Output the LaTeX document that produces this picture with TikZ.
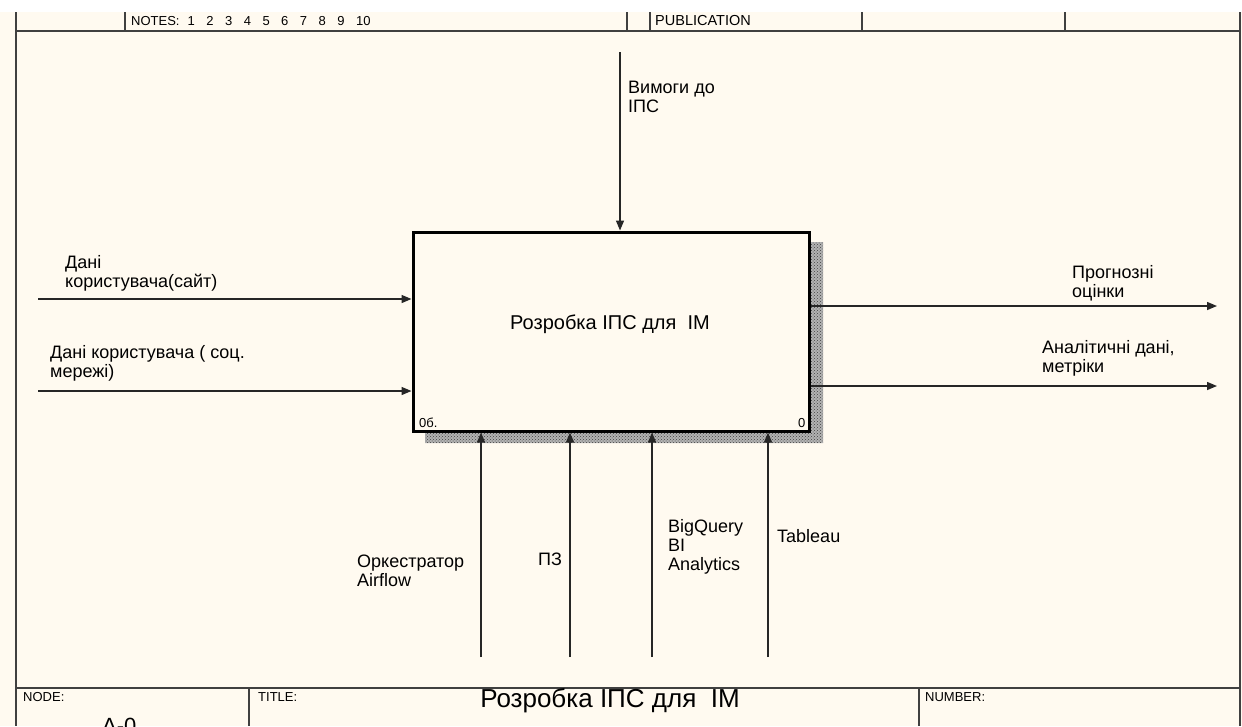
\documentclass[tikz,border=0pt]{standalone}
\usepackage{fontspec}
\setmainfont{Liberation Sans}
\usetikzlibrary{arrows.meta,patterns}
\definecolor{paper}{RGB}{255,250,240}
\definecolor{rulegray}{RGB}{64,64,64}
\begin{document}
\begin{tikzpicture}[x=1pt,y=-1pt,
  frameline/.style={draw=rulegray,line width=2pt},
  conn/.style={draw=black!85,line width=1.4pt,-{Triangle[length=10pt,width=8pt]}},
  lbl/.style={inner sep=0pt,anchor=base west,align=left,font=\fontsize{18}{19}\selectfont},
  small/.style={inner sep=0pt,anchor=base west,font=\fontsize{13}{15}\selectfont},
  tiny/.style={inner sep=0pt,anchor=base west,font=\fontsize{13}{15}\selectfont},
]
\useasboundingbox (0,0) rectangle (1242,726);
\clip (0,0) rectangle (1242,726);
\fill[white] (0,0) rectangle (1242,726);
\fill[paper] (0,12) rectangle (1242,726);

% sheet frame and header/footer cells
\draw[frameline] (16,12) -- (16,726);
\draw[frameline] (1240,12) -- (1240,726);
\draw[frameline] (16,31) -- (1240,31);
\foreach \x in {125,627,650,862,1065} \draw[frameline] (\x,12) -- (\x,31);
\draw[frameline] (16,688) -- (1240,688);
\foreach \x in {249,919} \draw[frameline] (\x,688) -- (\x,726);

\node[small] (notes) at (131,25) {NOTES:\hspace{8pt}1\hspace{11.5pt}2\hspace{11.5pt}3\hspace{11.5pt}4\hspace{11.5pt}5\hspace{11.5pt}6\hspace{11.5pt}7\hspace{11.5pt}8\hspace{11.5pt}9\hspace{11.5pt}10};
\node[small,font=\fontsize{14.5}{16}\selectfont] (pub) at (655,25) {PUBLICATION};
\node[small] (nodelbl) at (23,701) {NODE:};
\node[small] (titlelbl) at (258,701) {TITLE:};
\node[small] (numlbl) at (925,701) {NUMBER:};
\node[anchor=base,inner sep=0pt,font=\fontsize{26}{30}\selectfont] (sheettitle) at (610,707) {Розробка ІПС для\ \ ІМ};
\node[anchor=base west,inner sep=0pt,font=\fontsize{22}{26}\selectfont] (nodeid) at (102,733) {A-0};

% activity box with hatched shadow
\fill[black!30] (810,242) rectangle (823,443) (425,432) rectangle (810,443);
\fill[pattern=crosshatch dots,pattern color=black!75] (810,242) rectangle (823,443) (425,432) rectangle (810,443);
\node[draw,line width=3pt,minimum width=396pt,minimum height=199pt,inner sep=0pt] (ips) at (611,331.5) {};
\node[anchor=base,inner sep=0pt,font=\fontsize{20}{24}\selectfont] (ipstitle) at (610,329) {Розробка ІПС для\ \ ІМ};
\node[tiny] (cost) at (419,427) {0б.};
\node[tiny] (boxno) at (798,427) {0};

% control
\coordinate (ctl) at (620,52);
\draw[conn] (ctl) -- (ctl |- ips.north);
\node[lbl] (lblctl) at (628,112) {Вимоги до\\ІПС};

% inputs
\coordinate (in1) at (38,299);
\coordinate (in2) at (38,391);
\draw[conn] (in1) -- (in1 -| ips.west);
\draw[conn] (in2) -- (in2 -| ips.west);
\node[lbl] (lblin1) at (65,287) {Дані\\користувача(сайт)};
\node[lbl] (lblin2) at (50,377) {Дані користувача ( соц.\\мережі)};

% outputs
\coordinate (out1) at (1217,306);
\coordinate (out2) at (1217,386);
\draw[conn] (out1 -| ips.east) -- (out1);
\draw[conn] (out2 -| ips.east) -- (out2);
\node[lbl] (lblout1) at (1072,297) {Прогнозні\\оцінки};
\node[lbl] (lblout2) at (1042,372) {Аналітичні дані,\\метріки};

% mechanisms
\coordinate (m1) at (481,657);
\coordinate (m2) at (570,657);
\coordinate (m3) at (652,657);
\coordinate (m4) at (768,657);
\foreach \m in {m1,m2,m3,m4} \draw[conn] (\m) -- (\m |- ips.south);
\node[lbl] (lblm1) at (357,586) {Оркестратор\\Airflow};
\node[lbl] (lblm2) at (538,565) {ПЗ};
\node[lbl] (lblm3) at (668,570) {BigQuery\\BI\\Analytics};
\node[lbl] (lblm4) at (777,542) {Tableau};
\end{tikzpicture}
\end{document}
